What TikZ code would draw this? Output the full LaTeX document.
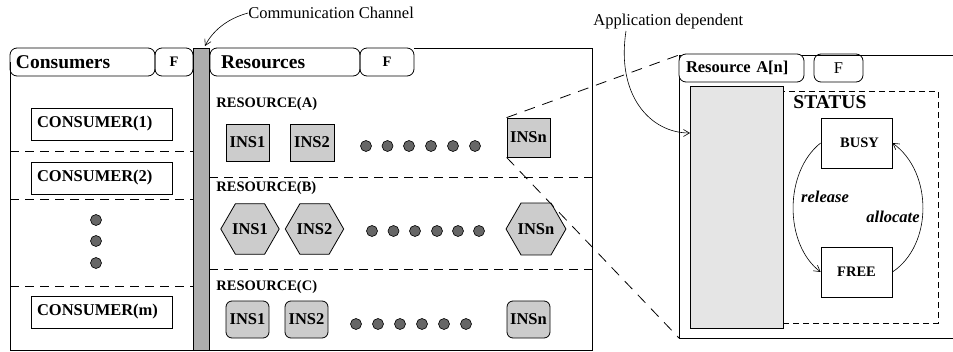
\documentclass[tikz,border=0pt]{standalone}
\usepackage{fontspec}
\setmainfont{Liberation Serif}
\usetikzlibrary{arrows.meta,shapes.geometric}
\definecolor{bargray}{gray}{0.68}
\definecolor{insgray}{gray}{0.8}
\definecolor{dotgray}{gray}{0.4}
\definecolor{panelgray}{gray}{0.9}
\newcommand\myhdrfont{\bfseries\fontsize{19.5}{21}\selectfont}
\newcommand\mylblfont{\bfseries\fontsize{16.5}{18}\selectfont}
\newcommand\mysmallfont{\bfseries\fontsize{14.5}{16}\selectfont}
\newcommand\myregfont{\fontsize{16.5}{18}\selectfont}
\begin{document}
\begin{tikzpicture}[x=1pt,y=-1pt,line width=0.8pt,
  hdr/.style={draw,rounded corners=7pt,inner sep=0pt,minimum height=28pt,align=left},
  fbox/.style={draw,rounded corners=7pt,inner sep=0pt,minimum height=28pt,font=\mysmallfont},
  consbox/.style={draw,minimum height=32pt,inner ysep=0pt,inner xsep=6pt,text width=129pt,align=left,font=\mylblfont},
  insbox/.style={draw,fill=insgray,inner sep=0pt,minimum width=43pt,minimum height=37pt,font=\mylblfont},
  inshex/.style={draw,fill=insgray,regular polygon,regular polygon sides=6,minimum size=54pt,inner sep=0pt,font=\mylblfont},
  insround/.style={insbox,rounded corners=6pt},
  dotnode/.style={draw,fill=dotgray,circle,minimum size=11pt,inner sep=0pt,line width=0.6pt},
  dline/.style={dash pattern=on 9pt off 6pt},
  zline/.style={dash pattern=on 11pt off 8pt},
  sline/.style={dash pattern=on 6pt off 4pt},
  arr/.style={-{Straight Barb[length=6pt,width=7pt]},line width=0.6pt},
  rlabel/.style={anchor=west,inner sep=0pt,font=\mysmallfont}
]
\useasboundingbox (0,0) rectangle (953,351);

% ---------- Consumers panel ----------
\draw (10,62) -- (10,350) -- (193,350);
\node[hdr,inner xsep=6pt,text width=133pt,font=\myhdrfont] (conshdr) at (82.5,62) {Consumers};
\node[fbox,minimum width=38pt] (consf) at (174,62) {F};
\node[consbox] (c1) at (101.5,124) {CONSUMER(1)};
\node[consbox] (c2) at (101.5,178) {CONSUMER(2)};
\node[consbox] (cm) at (101.5,312) {CONSUMER(m)};
\draw[dline] (10,151) -- (193,151);
\draw[dline] (10,199) -- (193,199);
\draw[dline] (10,286) -- (193,286);
\node[dotnode] (cd1) at (96,220) {};
\node[dotnode] (cd2) at (96,241) {};
\node[dotnode] (cd3) at (96,263) {};

% ---------- Communication channel ----------
\node[draw,fill=bargray,minimum width=16pt,minimum height=302pt,inner sep=0pt] (bar) at (201,199) {};
\node[anchor=west,inner sep=0pt,font=\myregfont] (cc) at (248,13) {Communication Channel};
\coordinate (cctip) at (205,46);
\draw[arr] (cc.west) .. controls (226,19) and (212,32) .. (cctip);

% ---------- Resources panel ----------
\draw (414,48) -- (592,48) -- (592,350) -- (209,350);
\node[hdr,inner xsep=11pt,text width=128pt,font=\myhdrfont] (reshdr) at (285,62) {Resources};
\node[fbox,minimum width=54pt] (resf) at (387,62) {F};
\draw[dline] (209,177) -- (592,177);
\draw[dline] (209,269) -- (592,269);

\node[rlabel] (ra) at (216,104) {RESOURCE(A)};
\node[insbox] (a1) at (247.5,142.5) {INS1};
\node[insbox,minimum width=44pt] (a2) at (312,142.5) {INS2};
\node[insbox,minimum height=39pt] (an) at (528.5,137.5) {INSn};
\foreach \i/\x in {1/366,2/387.5,3/409,4/431,5/453,6/475}
  \node[dotnode] (ad\i) at (\x,146) {};

\node[rlabel] (rb) at (216,188) {RESOURCE(B)};
\node[inshex] (b1) at (250,229) {INS1};
\node[inshex] (b2) at (314.5,229) {INS2};
\node[inshex] (bn) at (536,229) {INSn};
\foreach \i/\x in {1/372,2/393.5,3/415,4/437,5/458,6/479}
  \node[dotnode] (bd\i) at (\x,231) {};

\node[rlabel] (rc) at (216,287) {RESOURCE(C)};
\node[insround] (k1) at (247.5,319.5) {INS1};
\node[insround] (k2) at (306.5,319.5) {INS2};
\node[insround] (kn) at (528.5,319.5) {INSn};
\foreach \i/\x in {1/356,2/378,3/400,4/422,5/444,6/466}
  \node[dotnode] (kd\i) at (\x,324) {};

% ---------- Zoomed resource panel ----------
\coordinate (pTL) at (679,55);
\coordinate (pBL) at (679,338);
\draw (953,55) -- (679,55) -- (pBL) -- (953,338);
\node[hdr,fill=white,inner xsep=7pt,text width=111pt,font=\mylblfont] (rahdr) at (741.5,68) {Resource A[n]};
\node[fbox,minimum width=49pt,font=\myregfont] (raf) at (838.5,68) {F};
\draw (804,55) -- (953,55);
\node[draw,fill=panelgray,minimum width=93pt,minimum height=242pt,inner sep=0pt] (appl) at (736.5,207) {};
\node[draw,sline,minimum width=155pt,minimum height=232pt,inner sep=0pt] (status) at (860.5,207) {};
\node[anchor=west,inner sep=0pt,font=\myhdrfont] (stt) at (793,102) {STATUS};
\node[draw,minimum width=71pt,minimum height=50pt,inner sep=0pt,font=\mysmallfont] (busy) at (856.5,143) {\hspace*{6pt}BUSY};
\node[draw,minimum width=71pt,minimum height=50pt,inner sep=0pt,font=\mysmallfont] (free) at (856.5,272) {FREE};
\draw[arr] (busy.west) .. controls (784,172) and (784,244) .. (free.west);
\draw[arr] (free.east) .. controls (933,245) and (933,172) .. (busy.east);
\node[font=\bfseries\itshape\fontsize{16.5}{18}\selectfont,inner sep=0pt] (rel) at (825,197) {release};
\node[font=\bfseries\itshape\fontsize{16.5}{18}\selectfont,inner sep=0pt] (alc) at (893,217) {allocate};

\node[anchor=west,inner sep=0pt,font=\myregfont] (adep) at (593,22) {Application dependent};
\coordinate (adstart) at (626,31);
\coordinate (adtip) at (690,133);
\draw[arr] (adstart) .. controls (616,95) and (650,133) .. (adtip);

% zoom lines
\draw[zline] (an.north west) -- (pTL);
\draw[zline] (an.south west) -- (pBL);
\end{tikzpicture}
\end{document}
